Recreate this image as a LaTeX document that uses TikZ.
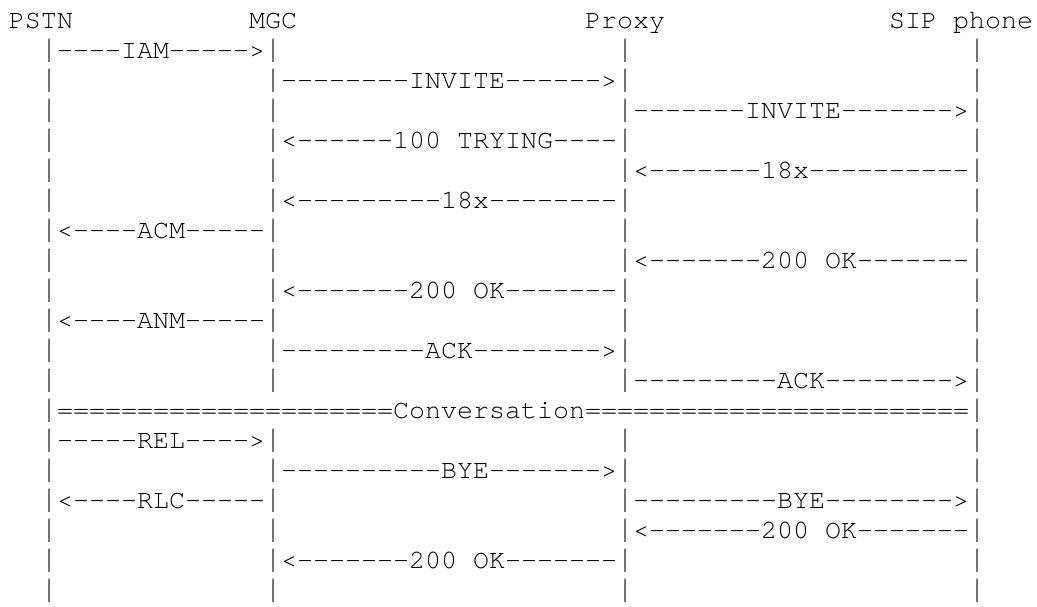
\documentclass[tikz,border=0pt]{standalone}
\usepackage{fontspec}
\setmonofont{TeX Gyre Cursor}
\tikzset{
  txt/.style={anchor=base west, inner sep=0pt, outer sep=0pt,
    font=\ttfamily\fontsize{26.667}{30}\selectfont, text=black}
}
\newcommand\tallbar{\scalebox{1}[1.2]{|}}
\begin{document}
\begin{tikzpicture}[x=1pt,y=-1pt]
\useasboundingbox (0,0) rectangle (1037,606);
% header
\node[txt] (pstn)  at ({9+16*0},28)  {PSTN};
\node[txt] (mgc)   at ({9+16*15},28) {MGC};
\node[txt] (proxy) at ({9+16*36},28) {Proxy};
\node[txt] (sip)   at ({9+16*55},28) {SIP phone};
% lifelines
\foreach \r in {1,...,12,14,15,16,17,18,19}{
  \foreach \c in {2,16,38,60}{
    \node[txt] (b-\r-\c) at ({9+16*\c},{28+30*\r}) {\tallbar};
  }
}
\node[txt] (b-13-2)  at ({9+16*2},{28+30*13})  {\tallbar};
\node[txt] (b-13-60) at ({9+16*60},{28+30*13}) {\tallbar};
% messages
\node[txt] (m1)  at ({9+16*3},{28+30*1})   {----IAM----->};
\node[txt] (m2)  at ({9+16*17},{28+30*2})  {--------INVITE------>};
\node[txt] (m3)  at ({9+16*39},{28+30*3})  {-------INVITE------->};
\node[txt] (m4)  at ({9+16*17},{28+30*4})  {<------100 TRYING----};
\node[txt] (m5)  at ({9+16*39},{28+30*5})  {<-------18x----------};
\node[txt] (m6)  at ({9+16*17},{28+30*6})  {<---------18x--------};
\node[txt] (m7)  at ({9+16*3},{28+30*7})   {<----ACM-----};
\node[txt] (m8)  at ({9+16*39},{28+30*8})  {<-------200 OK-------};
\node[txt] (m9)  at ({9+16*17},{28+30*9})  {<-------200 OK-------};
\node[txt] (m10) at ({9+16*3},{28+30*10})  {<----ANM-----};
\node[txt] (m11) at ({9+16*17},{28+30*11}) {---------ACK-------->};
\node[txt] (m12) at ({9+16*39},{28+30*12}) {---------ACK-------->};
\node[txt] (m13) at ({9+16*3},{28+30*13})  {=====================Conversation========================};
\node[txt] (m14) at ({9+16*3},{28+30*14})  {-----REL---->};
\node[txt] (m15) at ({9+16*17},{28+30*15}) {----------BYE------->};
\node[txt] (m16) at ({9+16*3},{28+30*16})  {<----RLC-----};
\node[txt] (m17) at ({9+16*39},{28+30*16}) {---------BYE-------->};
\node[txt] (m18) at ({9+16*39},{28+30*17}) {<-------200 OK-------};
\node[txt] (m19) at ({9+16*17},{28+30*18}) {<-------200 OK-------};
\end{tikzpicture}
\end{document}
